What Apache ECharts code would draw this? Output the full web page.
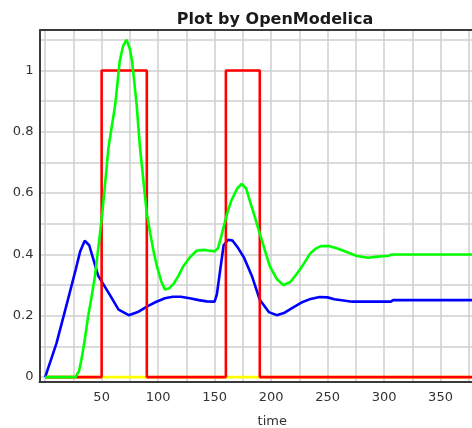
<!DOCTYPE html>
<html>
<head>
<meta charset="utf-8">
<script src="https://cdn.jsdelivr.net/npm/echarts@6/dist/echarts.min.js"></script>
<style>
  html, body { margin: 0; padding: 0; background: #fff; }
  #chart { width: 472px; height: 428px; }
</style>
</head>
<body>
<div id="chart"></div>
<script>
// values
const blueTime = [0, 10, 20, 27, 31, 35, 39, 47, 57, 65, 74, 82, 90, 98, 106, 113, 120, 128, 136, 143, 150, 152, 155, 158, 162, 166, 171, 176, 183, 190, 198, 205, 212, 220, 228, 235, 243, 250, 256, 264, 272, 290, 306, 308, 400]
const blueValue = [0, 0.11, 0.25, 0.35, 0.41, 0.445, 0.43, 0.33, 0.27, 0.22, 0.202, 0.212, 0.23, 0.245, 0.257, 0.262, 0.262, 0.257, 0.251, 0.247, 0.246, 0.27, 0.35, 0.43, 0.448, 0.445, 0.42, 0.39, 0.33, 0.252, 0.212, 0.202, 0.21, 0.228, 0.245, 0.255, 0.261, 0.26, 0.254, 0.25, 0.246, 0.246, 0.246, 0.251, 0.251]

const greenTime = [0, 27, 30, 32, 35, 38, 41, 44, 48, 51, 56, 62, 66, 69, 72, 75, 77, 81, 84, 87, 90, 93, 96, 99, 103, 106, 110, 114, 118, 122, 128, 134, 140, 146, 150, 153, 156, 158, 162, 165, 170, 174, 178, 181, 185, 189, 194, 199, 205, 211, 217, 223, 229, 235, 240, 244, 252, 258, 264, 276, 286, 292, 304, 307, 400]
const greenValue = [0, 0, 0.02, 0.055, 0.12, 0.197, 0.26, 0.327, 0.45, 0.55, 0.747, 0.888, 1.03, 1.08, 1.1, 1.07, 1.03, 0.888, 0.747, 0.64, 0.534, 0.469, 0.41, 0.36, 0.31, 0.286, 0.29, 0.306, 0.33, 0.36, 0.39, 0.412, 0.415, 0.412, 0.41, 0.42, 0.46, 0.49, 0.545, 0.577, 0.615, 0.63, 0.615, 0.577, 0.53, 0.48, 0.42, 0.36, 0.32, 0.3, 0.31, 0.338, 0.37, 0.405, 0.42, 0.427, 0.427, 0.42, 0.412, 0.395, 0.389, 0.392, 0.396, 0.4, 0.4]

const redTime = [0, 50, 50, 90, 90, 160, 160, 190, 190, 400]
const redValue = [0, 0, 1, 1, 0, 0, 1, 1, 0, 0]

const yellowTime = [0, 400]
const yellowValue = [0, 0]

const xLabelValues = [50, 100, 150, 200, 250, 300, 350]
const xGridValues = [0, 25, 50, 75, 100, 125, 150, 175, 200, 225, 250, 275, 300, 325, 350, 375, 400]
const yLabelValues = [0, 0.2, 0.4, 0.6, 0.8, 1]
const yGridValues = [0, 0.1, 0.2, 0.3, 0.4, 0.5, 0.6, 0.7, 0.8, 0.9, 1, 1.1]

const zip = (xs, ys) => xs.map((x, i) => [x, ys[i]])

const chart = echarts.init(document.getElementById('chart'), null, { renderer: 'canvas' })

const gridColor = '#cfcfcf'
const axisColor = '#3a3a3a'
const labelFont = { fontFamily: 'DejaVu Sans', fontSize: 13, color: '#333' }

const lineSeries = (name, xs, ys, color) => ({
  name,
  type: 'line',
  data: zip(xs, ys),
  showSymbol: false,
  smooth: false,
  animation: false,
  lineStyle: { color, width: 2.6 },
  itemStyle: { color }
})

chart.setOption({
  backgroundColor: '#fff',
  animation: false,
  title: {
    text: 'Plot by OpenModelica',
    left: 270,
    top: 7,
    textAlign: 'center',
    textStyle: { fontFamily: 'DejaVu Sans', fontWeight: 'bold', fontSize: 16, color: '#1a1a1a' }
  },
  grid: { left: 39.5, top: 30, width: 457.5, height: 352, show: false, outerBoundsMode: 'none', containLabel: false },
  xAxis: {
    type: 'value',
    min: -5,
    max: 400,
    name: 'time',
    nameLocation: 'middle',
    nameGap: 33,
    nameTextStyle: { ...labelFont, padding: [0, 0, 0, 8] },
    axisLine: { show: true, onZero: false, lineStyle: { color: axisColor, width: 2 } },
    axisTick: { show: false, customValues: xGridValues },
    axisLabel: { ...labelFont, margin: 9, customValues: xLabelValues },
    splitLine: { show: true, lineStyle: { color: gridColor, width: 1.5 } }
  },
  yAxis: {
    type: 'value',
    min: -0.016,
    max: 1.132,
    axisLine: { show: true, onZero: false, lineStyle: { color: axisColor, width: 2 } },
    axisTick: { show: false, customValues: yGridValues },
    axisLabel: {
      ...labelFont,
      margin: 6,
      customValues: yLabelValues,
      formatter: (v) => String(Math.round(v * 10) / 10)
    },
    splitLine: { show: true, lineStyle: { color: gridColor, width: 1.5 } }
  },
  graphic: [
    {
      type: 'line',
      shape: { x1: 39.5, y1: 30, x2: 472, y2: 30 },
      style: { stroke: axisColor, lineWidth: 2 },
      z: 10
    }
  ],
  series: [
    lineSeries('yellow', yellowTime, yellowValue, '#ffff00'),
    lineSeries('blue', blueTime, blueValue, '#0000ff'),
    lineSeries('red', redTime, redValue, '#ff0000'),
    lineSeries('green', greenTime, greenValue, '#00ff00')
  ]
})
</script>
</body>
</html>
